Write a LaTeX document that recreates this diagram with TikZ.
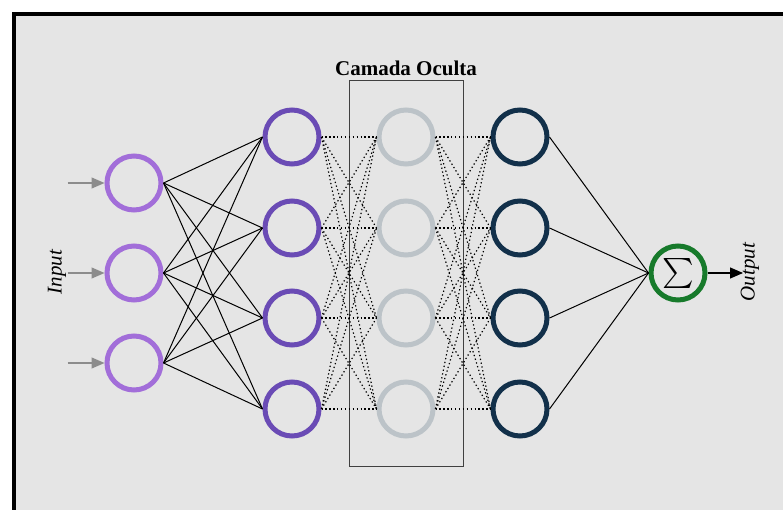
\documentclass[tikz,border=0pt]{standalone}
\usepackage{fontspec}
\usepackage{graphicx}
\setmainfont{Liberation Serif}
\usetikzlibrary{arrows.meta}

\definecolor{bgfill}{HTML}{E5E5E5}
\definecolor{inpurple}{HTML}{A26ED9}
\definecolor{deeppurple}{HTML}{6A4BB5}
\definecolor{hidgray}{HTML}{BCC3C8}
\definecolor{navy}{HTML}{12304A}
\definecolor{sumgreen}{HTML}{177A2B}
\definecolor{feedgray}{HTML}{8C8C8C}

\tikzset{
  neuron/.style={circle, draw, line width=5pt, minimum size=54pt, inner sep=0pt},
  inneuron/.style={neuron, draw=inpurple},
  firstneuron/.style={neuron, draw=deeppurple},
  hidneuron/.style={neuron, draw=hidgray},
  lastneuron/.style={neuron, draw=navy},
  sumneuron/.style={neuron, draw=sumgreen},
  solidlink/.style={draw=black, line width=1pt},
  dotlink/.style={draw=black, line width=1.2pt, dash pattern=on 1.3pt off 2.6pt},
  feed/.style={draw=feedgray, line width=1.2pt, -{Triangle[length=13pt,width=11pt]}},
  outarrow/.style={draw=black, line width=1.2pt, -{Triangle[length=13pt,width=11pt]}},
  sidelabel/.style={font=\fontsize{21}{21}\selectfont\itshape, rotate=90, inner sep=0pt},
  titlelabel/.style={font=\fontsize{21}{21}\selectfont\bfseries, inner sep=0pt}
}

\begin{document}
\begin{tikzpicture}[x=1pt, y=-1pt]
  \useasboundingbox (0,0) rectangle (783,510);

  % panel with its heavy left and top border
  \fill[bgfill] (16,16) rectangle (783,510);
  \fill[black] (12,12) rectangle (783,16);
  \fill[black] (12,12) rectangle (16,510);

  % hidden-layer frame and heading
  \node[draw=black!75, line width=1pt, minimum width=114pt, minimum height=385pt, inner sep=0pt] (hidbox) at (406,273.5) {};
  \node[titlelabel] (title) at (406,68) {Camada Oculta};

  % neurons
  \foreach \i/\y in {1/183, 2/273, 3/363}
    \node[inneuron] (in\i) at (134,\y) {};
  \foreach \i/\y in {1/137, 2/228, 3/318, 4/409} {
    \node[firstneuron] (a\i) at (292,\y) {};
    \node[hidneuron]   (h\i) at (406,\y) {};
    \node[lastneuron]  (b\i) at (520,\y) {};
  }
  \node[sumneuron] (sum) at (678,273) {\scalebox{3}{$\sum$}};

  % connections
  \foreach \i in {1,2,3}
    \foreach \j in {1,2,3,4}
      \draw[solidlink] (in\i.east) -- (a\j.west);
  \foreach \i in {1,2,3,4}
    \foreach \j in {1,2,3,4} {
      \draw[dotlink] (a\i.east) -- (h\j.west);
      \draw[dotlink] (h\i.east) -- (b\j.west);
    }
  \foreach \i in {1,2,3,4}
    \draw[solidlink] (b\i.east) -- (sum.west);

  % input feeds
  \foreach \i in {1,2,3} {
    \coordinate (src\i) at ([xshift=-37pt]in\i.west);
    \draw[feed] (src\i) -- (in\i.west);
  }
  \node[sidelabel] (inlabel) at (57,272) {Input};

  % output
  \coordinate (outend) at (743,273);
  \draw[outarrow] (sum.east) -- (outend);
  \node[sidelabel] (outlabel) at (750,272) {Output};
\end{tikzpicture}
\end{document}
